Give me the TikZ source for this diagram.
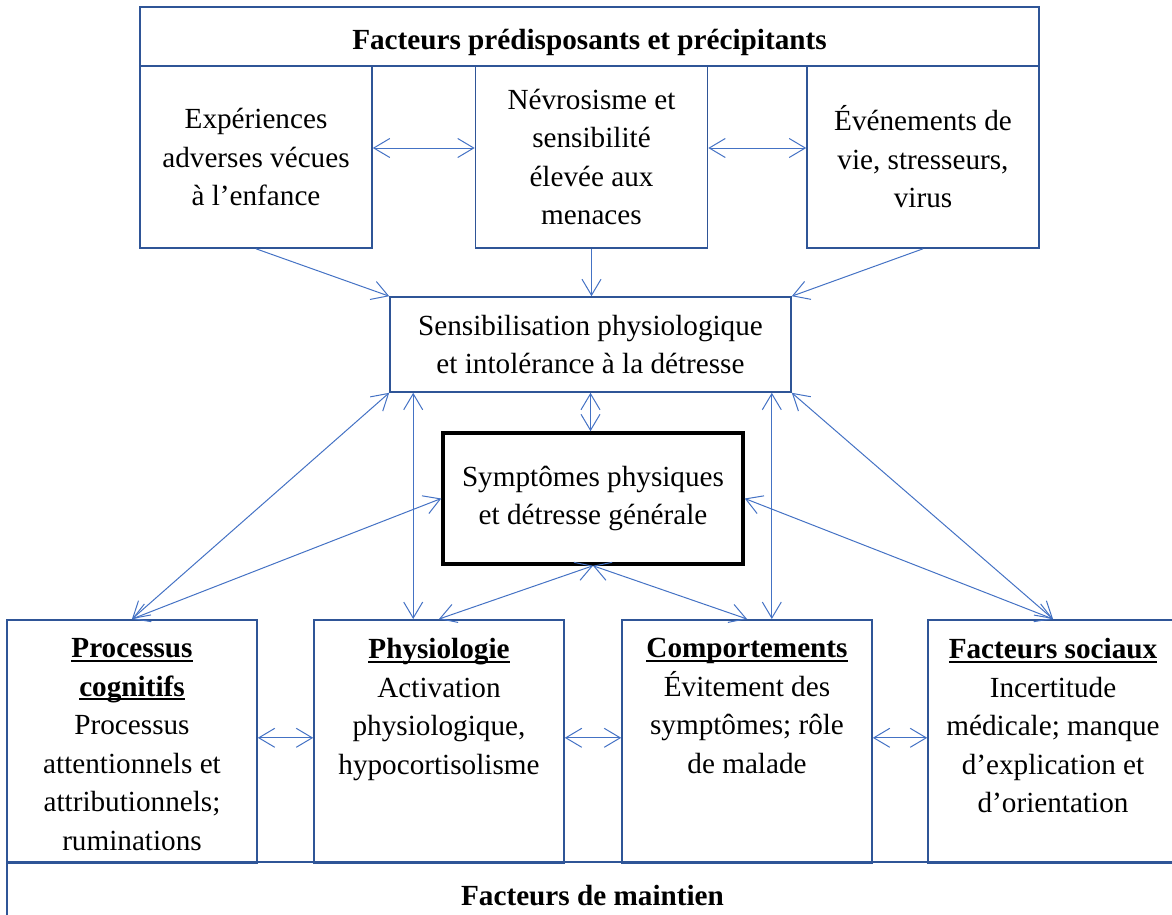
\documentclass[tikz,border=0pt]{standalone}
\usepackage{fontspec}
\setmainfont{Liberation Serif}
\usetikzlibrary{arrows.meta}
\definecolor{boxblue}{RGB}{47,85,151}
\definecolor{arrowblue}{RGB}{68,114,196}
\newcommand{\headul}[1]{\setbox0\hbox{\textbf{#1}}\rlap{\rule[-2pt]{\wd0}{0.9pt}}\box0}

\begin{document}
\begin{tikzpicture}[x=0.5pt, y=-0.5pt,
  font=\fontsize{14.6}{19.25}\selectfont,
  boxed/.style={draw=boxblue, line width=0.8pt, align=center, inner sep=2pt},
  topbox/.style={boxed, minimum width=116pt, minimum height=91pt},
  titlebox/.style={boxed, minimum height=29.5pt, text height=13.5pt, text depth=0pt, font=\fontsize{14.6}{19.25}\selectfont\bfseries},
  lowbox/.style={boxed, anchor=north, minimum width=125pt, minimum height=121.5pt},
  lowtext/.style={anchor=north, align=center, inner sep=0pt},
  link/.style={draw=arrowblue, line width=0.5pt, {Straight Barb[length=8pt,width=9.5pt]}-{Straight Barb[length=8pt,width=9.5pt]}},
  feed/.style={draw=arrowblue, line width=0.5pt, -{Straight Barb[length=8pt,width=9.5pt]}}]
  \useasboundingbox (0,0) rectangle (1172,915);

  % Predisposing and precipitating factors
  \node[titlebox, minimum width=449.5pt] (prec) at (589.5,36.5) {Facteurs prédisposants et précipitants};
  \node[topbox] (exp) at (256,157) {Expériences\\adverses vécues\\à l’enfance};
  \node[topbox] (nevro) at (591.5,157) {Névrosisme et\\sensibilité\\élevée aux\\menaces};
  \node[topbox] (evt) at (923,157) {Événements de\\vie, stresseurs,\\virus};

  % Central boxes
  \node[boxed, minimum width=200.5pt, minimum height=47.5pt] (sensib) at (590.5,344.5) {Sensibilisation physiologique\\et intolérance à la détresse};
  \node[boxed, draw=black, line width=1.75pt, minimum width=150pt, minimum height=65.5pt] (sympt) at (593,498.5) {Symptômes physiques\\et détresse générale};

  % Maintaining factors
  \node[lowbox] (cogn) at (132,619) {};
  \node[lowbox] (physio) at (439,619) {};
  \node[lowbox] (comport) at (747,619) {};
  \node[lowbox] (social) at (1053,619) {};
  \node[lowtext] (cognt) at ([yshift=-9.6pt]cogn.north) {\headul{Processus}\\\headul{cognitifs}\\Processus\\attentionnels et\\attributionnels;\\ruminations};
  \node[lowtext] (physiot) at ([yshift=-9.6pt]physio.north) {\headul{Physiologie}\\Activation\\physiologique,\\hypocortisolisme};
  \node[lowtext] (comportt) at ([yshift=-9.6pt]comport.north) {\headul{Comportements}\\Évitement des\\symptômes; rôle\\de malade};
  \node[lowtext] (socialt) at ([yshift=-9.6pt]social.north) {\headul{Facteurs sociaux}\\Incertitude\\médicale; manque\\d’explication et\\d’orientation};
  \node[titlebox, minimum width=585.5pt] (maint) at (592.5,891.5) {Facteurs de maintien};

  % Arrows, top
  \draw[link] ([yshift=4.5pt]exp.east) -- ([yshift=4.5pt]nevro.west);
  \draw[link] ([yshift=4.5pt]nevro.east) -- ([yshift=4.5pt]evt.west);
  \draw[feed] (exp.south) -- (sensib.north west);
  \draw[feed] (nevro.south) -- (nevro.south |- sensib.north);
  \draw[feed] (evt.south) -- (sensib.north east);

  % Arrows, middle
  \draw[link] (sensib.south) -- (sensib.south |- sympt.north);
  \coordinate (sl) at ([xshift=12pt]sensib.south west);
  \coordinate (sr) at ([xshift=-10pt]sensib.south east);
  \draw[link] (sl) -- (sl |- physio.north);
  \draw[link] (sr) -- (sr |- comport.north);
  \draw[link] (sensib.south west) -- (cogn.north);
  \draw[link] (sensib.south east) -- (social.north);
  \draw[link] (sympt.west) -- (cogn.north);
  \draw[link] (sympt.east) -- (social.north);
  \draw[link] (sympt.south) -- (physio.north);
  \draw[link] (sympt.south) -- (comport.north);

  % Arrows, bottom
  \draw[link] ([yshift=1.75pt]cogn.east) -- ([yshift=1.75pt]physio.west);
  \draw[link] ([yshift=1.75pt]physio.east) -- ([yshift=1.75pt]comport.west);
  \draw[link] ([yshift=1.75pt]comport.east) -- ([yshift=1.75pt]social.west);
\end{tikzpicture}
\end{document}
